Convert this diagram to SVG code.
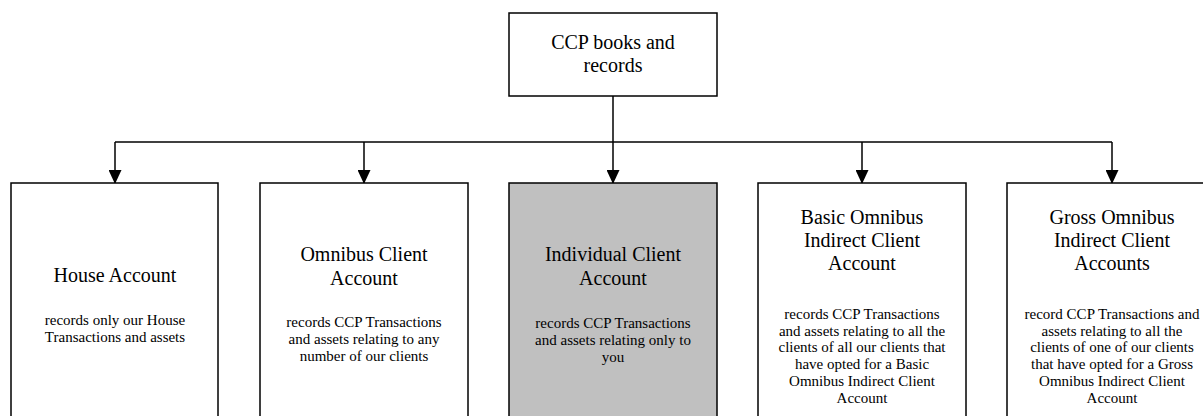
<svg xmlns="http://www.w3.org/2000/svg" width="1203" height="416" viewBox="0 0 1203 416">
<style>
.box{fill:#ffffff;stroke:#000000;stroke-width:1.5}
.shade{fill:#c0c0c0}
.conn{fill:none;stroke:#000000;stroke-width:1.5}
text{font-family:"Liberation Serif","Times New Roman",serif;fill:#000000;text-anchor:middle}
.t{font-size:20px}
.b{font-size:15px}
</style>
<defs>
<marker id="arr" markerUnits="userSpaceOnUse" markerWidth="14" markerHeight="13" refX="13" refY="6.5" orient="auto" viewBox="0 0 14 13">
<path d="M0,0 L14,6.5 L0,13 Z" fill="#000000"/>
</marker>
</defs>
<rect width="1203" height="416" fill="#ffffff"/>
<g id="connectors">
<line class="conn" x1="613" y1="96" x2="613" y2="183" marker-end="url(#arr)"/>
<line class="conn" x1="115" y1="142" x2="1112" y2="142"/>
<line class="conn" x1="115" y1="142" x2="115" y2="183" marker-end="url(#arr)"/>
<line class="conn" x1="364" y1="142" x2="364" y2="183" marker-end="url(#arr)"/>
<line class="conn" x1="862" y1="142" x2="862" y2="183" marker-end="url(#arr)"/>
<line class="conn" x1="1112" y1="142" x2="1112" y2="183" marker-end="url(#arr)"/>
</g>
<g id="node-ccp">
<rect class="box" x="509" y="13" width="208" height="83"/>
<text class="t" x="613" y="49">CCP books and</text>
<text class="t" x="613" y="72">records</text>
</g>
<g id="node-house">
<rect class="box" x="11" y="183" width="207" height="250"/>
<text class="t" x="115" y="282">House Account</text>
<text class="b" x="115" y="325">records only our House</text>
<text class="b" x="115" y="342">Transactions and assets</text>
</g>
<g id="node-omnibus">
<rect class="box" x="260" y="183" width="208" height="250"/>
<text class="t" x="364" y="261">Omnibus Client</text>
<text class="t" x="364" y="284.5">Account</text>
<text class="b" x="364" y="327">records CCP Transactions</text>
<text class="b" x="364" y="344">and assets relating to any</text>
<text class="b" x="364" y="361">number of our clients</text>
</g>
<g id="node-individual">
<rect class="box shade" x="509" y="183" width="208" height="250"/>
<text class="t" x="613" y="261">Individual Client</text>
<text class="t" x="613" y="284.5">Account</text>
<text class="b" x="613" y="327.5">records CCP Transactions</text>
<text class="b" x="613" y="344.5">and assets relating only to</text>
<text class="b" x="613" y="361.5">you</text>
</g>
<g id="node-basic">
<rect class="box" x="758" y="183" width="208" height="250"/>
<text class="t" x="862" y="223.5">Basic Omnibus</text>
<text class="t" x="862" y="246.8">Indirect Client</text>
<text class="t" x="862" y="270">Account</text>
<text class="b" x="862" y="319">records CCP Transactions</text>
<text class="b" x="862" y="335.7">and assets relating to all the</text>
<text class="b" x="862" y="352.4">clients of all our clients that</text>
<text class="b" x="862" y="369.1">have opted for a Basic</text>
<text class="b" x="862" y="385.8">Omnibus Indirect Client</text>
<text class="b" x="862" y="402.5">Account</text>
</g>
<g id="node-gross">
<rect class="box" x="1007" y="183" width="210" height="250"/>
<text class="t" x="1112" y="223.5">Gross Omnibus</text>
<text class="t" x="1112" y="246.8">Indirect Client</text>
<text class="t" x="1112" y="270">Accounts</text>
<text class="b" x="1112" y="319">record CCP Transactions and</text>
<text class="b" x="1112" y="335.7">assets relating to all the</text>
<text class="b" x="1112" y="352.4">clients of one of our clients</text>
<text class="b" x="1112" y="369.1">that have opted for a Gross</text>
<text class="b" x="1112" y="385.8">Omnibus Indirect Client</text>
<text class="b" x="1112" y="402.5">Account</text>
</g>
</svg>
